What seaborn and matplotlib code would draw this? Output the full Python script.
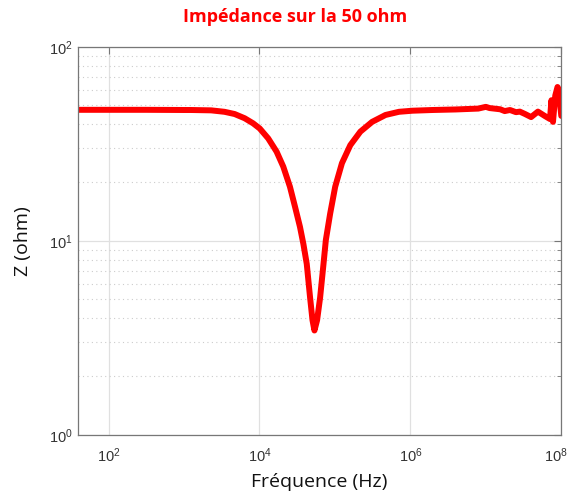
import numpy as np
import pandas as pd
import matplotlib
matplotlib.use("Agg")
import matplotlib.pyplot as plt
import matplotlib.ticker as mticker
import matplotlib.transforms as mtransforms
import seaborn as sns

# Impedance curve
freq_hz = [39, 100, 316, 1000, 1239, 2291, 3443, 4688, 6368, 8241,
           10090, 13060, 16870, 20700, 25350, 29580, 34440, 38280, 42360,
           46880, 50470, 53580, 58080, 63680, 70630, 75860, 86500,
           100900, 123900, 160000, 217300, 311200, 468800, 706300,
           1.064e6, 1.963e6, 3.98e6, 7.94e6, 1.0e7, 1.12e7, 1.55e7,
           1.78e7, 2.09e7, 2.51e7, 2.82e7, 3.31e7, 3.98e7, 4.90e7, 6.03e7,
           7.08e7, 7.41e7, 7.76e7, 8.32e7, 8.91e7, 9.33e7, 9.77e7, 1.0e8]
z_ohm = [47.3, 47.3, 47.3, 47.2, 47.2, 47.0, 46.2, 45.0, 42.8, 40.3,
         37.9, 33.7, 28.8, 24.1, 19.0, 15.0, 11.8, 9.6, 7.6,
         5.1, 3.9, 3.45, 3.9, 5.1, 7.6, 10.1, 13.8,
         19.0, 25.1, 31.1, 36.5, 41.0, 44.5, 46.2,
         46.8, 47.2, 47.5, 48.0, 49.0, 48.3, 47.6,
         46.6, 47.2, 46.0, 46.3, 45.0, 43.4, 46.3, 44.0,
         42.4, 53.0, 41.0, 56.0, 62.0, 60.0, 48.0, 44.0]

x_ticks = [1e2, 1e4, 1e6, 1e8]
y_ticks = [1, 10, 100]

df = pd.DataFrame({"f": freq_hz, "z": z_ohm})

sns.set_style("white")
plt.rcParams["font.family"] = ["Liberation Sans", "DejaVu Sans"]

fig = plt.figure(figsize=(5.71, 4.97), dpi=100)
ax = fig.add_axes([0.136, 0.125, 0.847, 0.781])

sns.lineplot(data=df, x="f", y="z", ax=ax, color="#ff0000", linewidth=4.3,
             sort=False, estimator=None)

ax.set_xscale("log")
ax.set_yscale("log")
ax.set_xlim(39, 1e8)
ax.set_ylim(1, 100)

ax.xaxis.set_major_locator(mticker.FixedLocator(x_ticks))
ax.xaxis.set_major_formatter(mticker.LogFormatterSciNotation())
ax.xaxis.set_minor_locator(mticker.NullLocator())
ax.yaxis.set_major_locator(mticker.FixedLocator(y_ticks))
ax.yaxis.set_major_formatter(mticker.LogFormatterSciNotation())
ax.yaxis.set_minor_locator(mticker.LogLocator(base=10, subs=np.arange(2, 10), numticks=20))
ax.yaxis.set_minor_formatter(mticker.NullFormatter())

ax.grid(True, which="major", color="#e0e0e0", linewidth=0.9, linestyle="-")
ax.grid(True, which="minor", axis="y", color="#cccccc", linewidth=0.8, linestyle=(0, (1, 3)))

ax.tick_params(which="both", direction="in", top=True, right=True, colors="#777777",
               labelcolor="#333333", labelsize=10.5)
ax.tick_params(which="major", length=5)
ax.tick_params(which="minor", length=3)
ax.tick_params(axis="x", pad=8)
for s in ax.spines.values():
    s.set_color("#777777")
    s.set_linewidth(0.9)

# nudge the last x label so it stays inside the figure
last = ax.get_xticklabels()[-1]
last.set_transform(last.get_transform() +
                   mtransforms.ScaledTranslation(-5 / 100, 0, fig.dpi_scale_trans))

ax.set_xlabel("Fréquence (Hz)", fontsize=14, family=["Open Sans", "DejaVu Sans"],
              color="#111111", labelpad=6)
ax.set_ylabel("Z (ohm)", fontsize=14, family=["Open Sans", "DejaVu Sans"],
              color="#111111", labelpad=12)

fig.text(295 / 571, 1 - 17 / 497, "Impédance sur la 50 ohm", color="#ff0000",
         fontsize=13, fontweight="bold", family=["Open Sans", "DejaVu Sans"],
         ha="center", va="center")

fig.savefig("out.png", dpi=100, facecolor="white")
